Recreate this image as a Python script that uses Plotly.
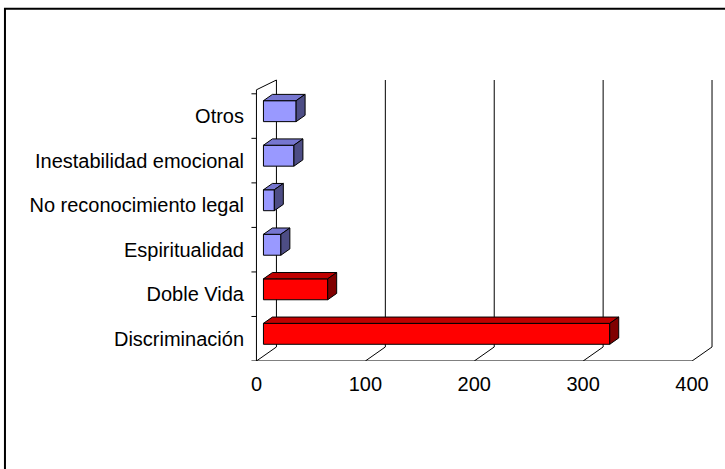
import plotly.graph_objects as go

# categories listed bottom -> top, as drawn
categories = ["Discriminación", "Doble Vida", "Espiritualidad",
              "No reconocimiento legal", "Inestabilidad emocional", "Otros"]
values = [318, 59, 16, 10, 28, 30]
highlight = [True, True, False, False, False, False]
x_ticks = [0, 100, 200, 300, 400]

# fake 3D geometry (data units)
DX, DY = 18.35, 0.315          # depth of the floor / walls
F0, F1 = 0.35, 0.80            # bar front / back position inside the depth
HALF = 0.235                   # half bar thickness
WALL_TOP_FRONT, WALL_TOP_BACK = 6.09, 6.31

RED = dict(front="#FF0000", top="#C00000", side="#800000")
BLUE = dict(front="#9999FF", top="#7676D0", side="#4D4D85")

fig = go.Figure()


def line_trace(xs, ys, color="black", width=1):
    return go.Scatter(x=xs, y=ys, mode="lines", hoverinfo="skip", showlegend=False,
                      line=dict(color=color, width=width))


# walls, floor and gridlines
xs, ys = [], []
xs += [0, 0, None]; ys += [0, WALL_TOP_FRONT, None]
xs += [DX, DX, None]; ys += [DY, WALL_TOP_BACK, None]
xs += [0, DX, None]; ys += [WALL_TOP_FRONT, WALL_TOP_BACK, None]
xs += [0, x_ticks[-1], None]; ys += [0, 0, None]
for v in x_ticks:
    xs += [v, v + DX, None]; ys += [0, DY, None]
    if v > 0:
        xs += [v + DX, v + DX, None]; ys += [DY, WALL_TOP_BACK, None]
# category tick marks on the left wall
for i in range(len(categories) + 1):
    xs += [-4.6, 0, None]; ys += [i, i, None]
fig.add_trace(line_trace(xs, ys))

# 3D bars: front, top and side faces
for pal, flag in ((BLUE, False), (RED, True)):
    faces = {"front": ([], []), "top": ([], []), "side": ([], [])}
    for i, (v, h) in enumerate(zip(values, highlight)):
        if h != flag:
            continue
        x0 = F0 * DX
        x1 = x0 + v
        y0 = i + 0.5 + F0 * DY - HALF
        y1 = i + 0.5 + F0 * DY + HALF
        ddx = (F1 - F0) * DX
        ddy = (F1 - F0) * DY
        fx, fy = faces["front"]
        fx += [x0, x1, x1, x0, x0, None]; fy += [y0, y0, y1, y1, y0, None]
        tx, ty = faces["top"]
        tx += [x0, x1, x1 + ddx, x0 + ddx, x0, None]
        ty += [y1, y1, y1 + ddy, y1 + ddy, y1, None]
        sx, sy = faces["side"]
        sx += [x1, x1 + ddx, x1 + ddx, x1, x1, None]
        sy += [y0, y0 + ddy, y1 + ddy, y1, y0, None]
    for face, (fx, fy) in faces.items():
        fig.add_trace(go.Scatter(x=fx, y=fy, mode="lines", fill="toself",
                                 fillcolor=pal[face], hoverinfo="skip",
                                 showlegend=False,
                                 line=dict(color="black", width=1)))

L, R, T, B = 250.5, 9, 76, 108
W, H = 725, 469
pw, ph = W - L - R, H - T - B

fig.update_layout(
    width=W, height=H,
    margin=dict(l=L, r=R, t=T, b=B, pad=0),
    paper_bgcolor="white", plot_bgcolor="white",
    font=dict(family="Arial, Liberation Sans, sans-serif", size=20, color="black"),
    xaxis=dict(range=[-5, 422], tickvals=x_ticks, showgrid=False, zeroline=False,
               showline=False, ticks="outside", ticklen=5,
               tickcolor="rgba(0,0,0,0)"),
    yaxis=dict(range=[0, 6.4], tickvals=[i + 0.5 for i in range(len(categories))],
               ticktext=categories, showgrid=False, zeroline=False, showline=False,
               ticks="outside", ticklen=2, tickcolor="rgba(0,0,0,0)"),
    shapes=[dict(type="rect", xref="paper", yref="paper",
                 x0=(4.2 - L) / pw, x1=(770 - L) / pw,
                 y0=(H - B - 480) / ph, y1=(H - B - 8.7) / ph,
                 line=dict(color="black", width=2))],
)

# page has a default 8px body margin; drop it so the figure sits at (0, 0)
fig.write_html("out.html", config={"displayModeBar": False},
               post_script="document.body.style.margin = '0';")
